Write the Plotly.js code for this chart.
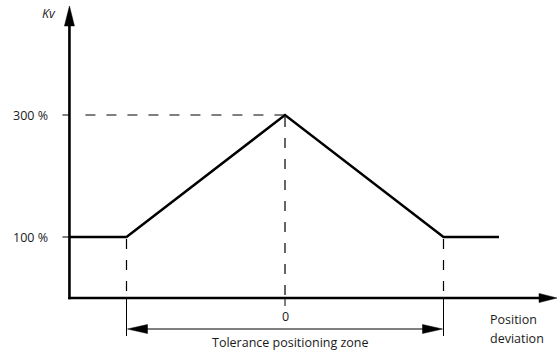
<!DOCTYPE html>
<html>
<head>
<meta charset="utf-8">
<script src="https://cdn.plot.ly/plotly-3.0.1.min.js"></script>
<style>html,body{margin:0;padding:0;background:#fff;}#chart{width:559px;height:351px;}</style>
</head>
<body>
<div id="chart"></div>
<script>
// ---- data (x: position deviation in units of the tolerance half-width; y: Kv in %) ----
var positions = [-1.36, -1, 0, 1, 1.35];
var kv = [100, 100, 300, 100, 100];
var yTicks = [100, 300];
var yTickLabels = ['100 %', '300 %'];
var zeroLabel = ['0'];
var toleranceZone = [-1, 1];
var xTitleLines = ['Position', 'deviation'];
var yTitle = 'Kv';
var zoneLabel = 'Tolerance positioning zone';

// ---- scales (plot area covers the whole canvas) ----
var xRange = [-1.7981, 1.7287];
var yRange = [-86.885, 488.525];
var pxPerX = 158.5, pxPerY = 0.61;
function dx(px) { return px / pxPerX; }
function dy(px) { return px / pxPerY; }

var axisX = positions[0];
var ink = '#000';
var txt = '#1a1a1a';
var font = {family: 'Open Sans, sans-serif', size: 12.5, color: txt};

var shapes = [];
// y axis
shapes.push({type: 'line', xref: 'x', yref: 'y', x0: axisX, x1: axisX, y0: -dy(1.2), y1: dy(298 - 22), line: {color: ink, width: 2.6}});
shapes.push({type: 'path', xref: 'x', yref: 'y', xsizemode: 'pixel', ysizemode: 'pixel', xanchor: axisX, yanchor: dy(298 - 6),
  path: 'M0,0 L-5,-20 L5,-20 Z', fillcolor: ink, line: {color: ink, width: 0.5}});
// x axis
var xTip = dx(557 - 285);
shapes.push({type: 'line', xref: 'x', yref: 'y', x0: axisX - dx(1.2), x1: xTip - dx(10), y0: 0, y1: 0, line: {color: ink, width: 2.6}});
shapes.push({type: 'path', xref: 'x', yref: 'y', xsizemode: 'pixel', ysizemode: 'pixel', xanchor: xTip, yanchor: 0,
  path: 'M0,0 L-18,4.6 L-18,-4.6 Z', fillcolor: ink, line: {color: ink, width: 0.5}});
// y ticks
yTicks.forEach(function (v) {
  shapes.push({type: 'line', xref: 'x', yref: 'y', x0: axisX - dx(7), x1: axisX, y0: v, y1: v, line: {color: ink, width: 1}});
});
var dash = '10px,11px';
// dashed guide from peak to y axis
shapes.push({type: 'line', xref: 'x', yref: 'y', x0: axisX + dx(16), x1: positions[2], y0: kv[2], y1: kv[2], line: {color: ink, width: 1.2, dash: dash}});
// vertical dashed guides
[1, 2, 3].forEach(function (i) {
  shapes.push({type: 'line', xref: 'x', yref: 'y', x0: positions[i], x1: positions[i], y0: kv[i] - dy(2), y1: 0, line: {color: ink, width: 1.2, dash: dash}});
});
// solid extensions below the x axis
shapes.push({type: 'line', xref: 'x', yref: 'y', x0: positions[2], x1: positions[2], y0: 0, y1: -dy(8), line: {color: ink, width: 1}});
toleranceZone.forEach(function (v) {
  shapes.push({type: 'line', xref: 'x', yref: 'y', x0: v, x1: v, y0: 0, y1: -dy(38), line: {color: ink, width: 1}});
});
// tolerance double arrow
var zoneY = -dy(31);
shapes.push({type: 'line', xref: 'x', yref: 'y', x0: toleranceZone[0] + dx(10), x1: toleranceZone[1] - dx(10), y0: zoneY, y1: zoneY, line: {color: ink, width: 1.2}});
shapes.push({type: 'path', xref: 'x', yref: 'y', xsizemode: 'pixel', ysizemode: 'pixel', xanchor: toleranceZone[0], yanchor: zoneY,
  path: 'M1,0 L21,4.5 L21,-4.5 Z', fillcolor: ink, line: {color: ink, width: 0.5}});
shapes.push({type: 'path', xref: 'x', yref: 'y', xsizemode: 'pixel', ysizemode: 'pixel', xanchor: toleranceZone[1], yanchor: zoneY,
  path: 'M-1,0 L-21,4.5 L-21,-4.5 Z', fillcolor: ink, line: {color: ink, width: 0.5}});

var annotations = [];
yTicks.forEach(function (v, i) {
  annotations.push({x: axisX, y: v, xref: 'x', yref: 'y', text: yTickLabels[i], showarrow: false, xanchor: 'right', yanchor: 'middle', xshift: -19, font: font});
});
annotations.push({x: axisX, y: dy(298 - 6), xref: 'x', yref: 'y', text: '<i>' + yTitle + '</i>', showarrow: false, xanchor: 'right', yanchor: 'middle', xshift: -11, yshift: -7, font: font});
annotations.push({x: positions[2], y: 0, xref: 'x', yref: 'y', text: zeroLabel[0], showarrow: false, xanchor: 'center', yanchor: 'middle', yshift: -18, font: font});
annotations.push({x: positions[2], y: 0, xref: 'x', yref: 'y', text: zoneLabel, showarrow: false, xanchor: 'center', yanchor: 'middle', xshift: 5, yshift: -44, font: font});
xTitleLines.forEach(function (t, i) {
  annotations.push({x: toleranceZone[1], y: 0, xref: 'x', yref: 'y', text: t, showarrow: false, xanchor: 'left', yanchor: 'middle', xshift: 44, yshift: -21 - 19 * i, font: font});
});

var data = [{
  x: positions, y: kv, type: 'scatter', mode: 'lines',
  line: {color: ink, width: 2.5}, hoverinfo: 'skip'
}];

var layout = {
  width: 559, height: 351,
  margin: {l: 0, r: 0, t: 0, b: 0, pad: 0},
  paper_bgcolor: '#fff', plot_bgcolor: '#fff',
  showlegend: false,
  xaxis: {range: xRange, visible: false, fixedrange: true},
  yaxis: {range: yRange, visible: false, fixedrange: true},
  shapes: shapes,
  annotations: annotations
};

Plotly.newPlot('chart', data, layout, {staticPlot: true, displayModeBar: false});
</script>
</body>
</html>
